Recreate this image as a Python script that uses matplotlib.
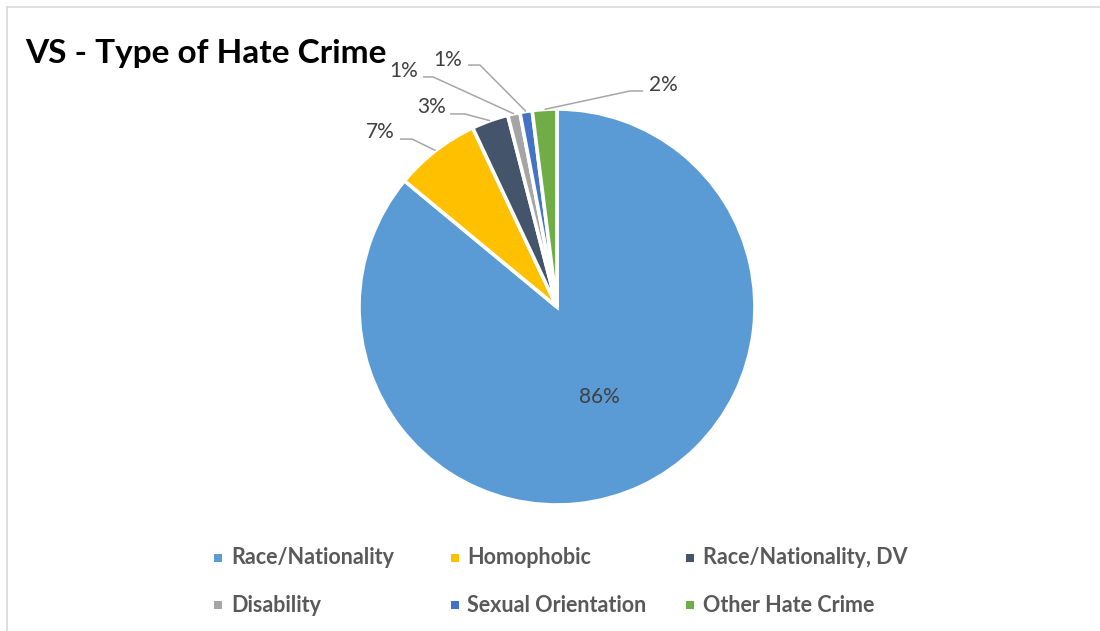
import numpy as np
import matplotlib
matplotlib.use("Agg")
import matplotlib.pyplot as plt
from matplotlib.patches import Rectangle
from matplotlib.lines import Line2D

plt.rcParams['font.family'] = ['Lato', 'DejaVu Sans']

# %% data
categories = ['Race/Nationality', 'Homophobic', 'Race/Nationality, DV',
              'Disability', 'Sexual Orientation', 'Other Hate Crime']
shares = [86, 7, 3, 1, 1, 2]
colors = ['#5B9BD5', '#FFC000', '#44546A', '#A5A5A5', '#4472C4', '#70AD47']
title = 'VS - Type of Hate Crime'

# outside label placement for the small slices (data units, radius = 1)
label_xy = {1: (-0.894, 0.884), 2: (-0.636, 1.010), 3: (-0.773, 1.192),
            4: (-0.551, 1.247), 5: (0.535, 1.121)}
elbow_xy = {1: [(-0.793, 0.848), (-0.732, 0.848)],
            2: [(-0.540, 0.975), (-0.465, 0.975)],
            3: [(-0.677, 1.162), (-0.626, 1.162)],
            4: [(-0.449, 1.222), (-0.389, 1.222)],
            5: [(0.434, 1.091), (0.369, 1.091)]}

W, H = 1100, 631
fig = plt.figure(figsize=(W / 100, H / 100), dpi=100)
fig.patch.set_facecolor('white')

# chart frame (top and left edges)
fig.add_artist(Line2D([7 / W, 7 / W], [0, 1 - 7 / H], color='#D9D9D9', lw=1.2))
fig.add_artist(Line2D([7 / W, 1], [1 - 7 / H, 1 - 7 / H], color='#D9D9D9', lw=1.2))

# pie axes: centre (557, 307) px, radius 198 px
cx, cy, r = 557, 307, 198
half = 300
ax = fig.add_axes([(cx - half) / W, (H - cy - half) / H, 2 * half / W, 2 * half / H])
wedges, _ = ax.pie(shares, colors=colors, startangle=90, counterclock=False,
                   wedgeprops=dict(edgecolor='white', linewidth=2.6))
ax.set_xlim(-half / r, half / r)
ax.set_ylim(-half / r, half / r)
ax.set_aspect('equal')
ax.axis('off')

total = float(sum(shares))
for i, w in enumerate(wedges):
    mid = np.deg2rad((w.theta1 + w.theta2) / 2)
    pct = f'{shares[i] / total * 100:.0f}%'
    if i == 0:
        ax.text(0.5 * np.cos(mid), 0.5 * np.sin(mid), pct, ha='center', va='center',
                fontsize=15, color='#404040')
        continue
    tx, ty = label_xy[i]
    ax.text(tx, ty, pct, ha='center', va='center', fontsize=15, color='#404040')
    pts = elbow_xy[i] + [(np.cos(mid), np.sin(mid))]
    ax.plot([p[0] for p in pts], [p[1] for p in pts], color='#A6A6A6', lw=1.1,
            solid_capstyle='butt', clip_on=False)

fig.text(25 / W, 1 - 54 / H, title, fontsize=24, fontweight='bold',
         color='black', ha='left', va='center')

# legend, three columns by two rows
col_marker = [214, 451, 686]
col_text = [231, 467, 703]
row_y = [558, 605]
for i, (name, c) in enumerate(zip(categories, colors)):
    row, col = divmod(i, 3)
    y = row_y[row]
    fig.add_artist(Rectangle((col_marker[col] / W, 1 - (y + 4) / H), 8 / W, 8 / H,
                             transform=fig.transFigure, facecolor=c, edgecolor='none'))
    fig.text(col_text[col] / W, 1 - y / H, name, fontsize=15.5, fontweight='bold',
             color='#595959', ha='left', va='center')

fig.savefig('out.png', dpi=100, facecolor='white')
